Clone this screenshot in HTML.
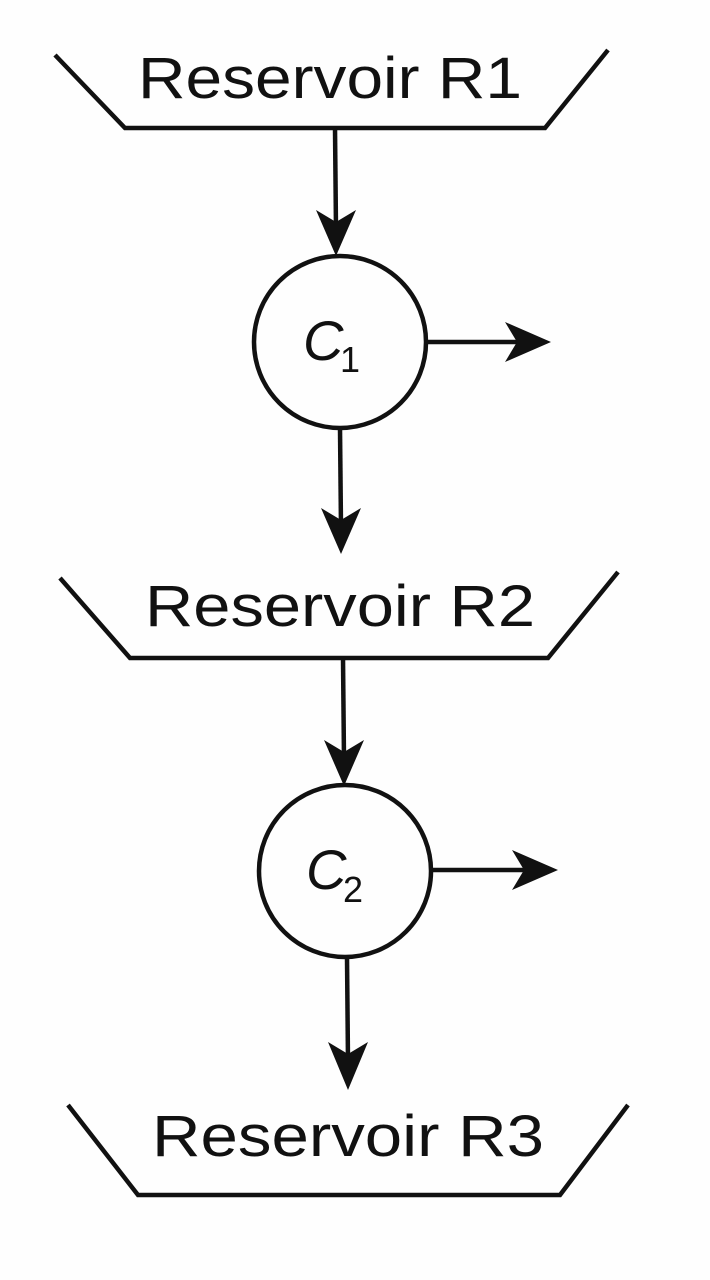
<!DOCTYPE html>
<html><head><style>body{margin:0;background:#fff}svg{display:block}</style></head>
<body>
<svg width="710" height="1280" viewBox="0 0 710 1280" xmlns="http://www.w3.org/2000/svg">
<rect width="710" height="1280" fill="#fefefe"/>
<g stroke="#111" stroke-width="4.5" fill="none" stroke-linejoin="miter">
<polyline points="55,55 125,128 545,128 608,50"/>
<polyline points="60,578 130,658 548,658 618,572"/>
<polyline points="68,1105 138,1195 560,1195 628,1105"/>
<circle cx="340" cy="342" r="86"/>
<circle cx="345" cy="871" r="86"/>
<line x1="335" y1="128" x2="336" y2="230"/>
<line x1="426" y1="342" x2="525" y2="342"/>
<line x1="340" y1="428" x2="341" y2="528"/>
<line x1="343" y1="658" x2="344" y2="760"/>
<line x1="431" y1="870" x2="532" y2="870"/>
<line x1="347" y1="957" x2="348" y2="1062"/>
</g>
<g fill="#111">
<polygon points="316,210 336,256 356,210 336,222"/>
<polygon points="505,322 551,342 505,362 517,342"/>
<polygon points="321,508 341,554 361,508 341,520"/>
<polygon points="324,740 344,786 364,740 344,752"/>
<polygon points="512,850 558,870 512,890 524,870"/>
<polygon points="328,1042 348,1090 368,1042 348,1054"/>
</g>
<g font-family="Liberation Sans, sans-serif" font-size="58" fill="#111">
<text x="138" y="98" textLength="384" lengthAdjust="spacingAndGlyphs">Reservoir R1</text>
<text x="145" y="626" textLength="390" lengthAdjust="spacingAndGlyphs">Reservoir R2</text>
<text x="152" y="1156" textLength="392" lengthAdjust="spacingAndGlyphs">Reservoir R3</text>
</g>
<g font-family="Liberation Sans, sans-serif" fill="#111">
<text x="303" y="360" font-size="56" font-style="italic">C</text>
<text x="340" y="372" font-size="36">1</text>
<text x="306" y="889" font-size="56" font-style="italic">C</text>
<text x="343" y="902" font-size="36">2</text>
</g>
</svg>
</body></html>
